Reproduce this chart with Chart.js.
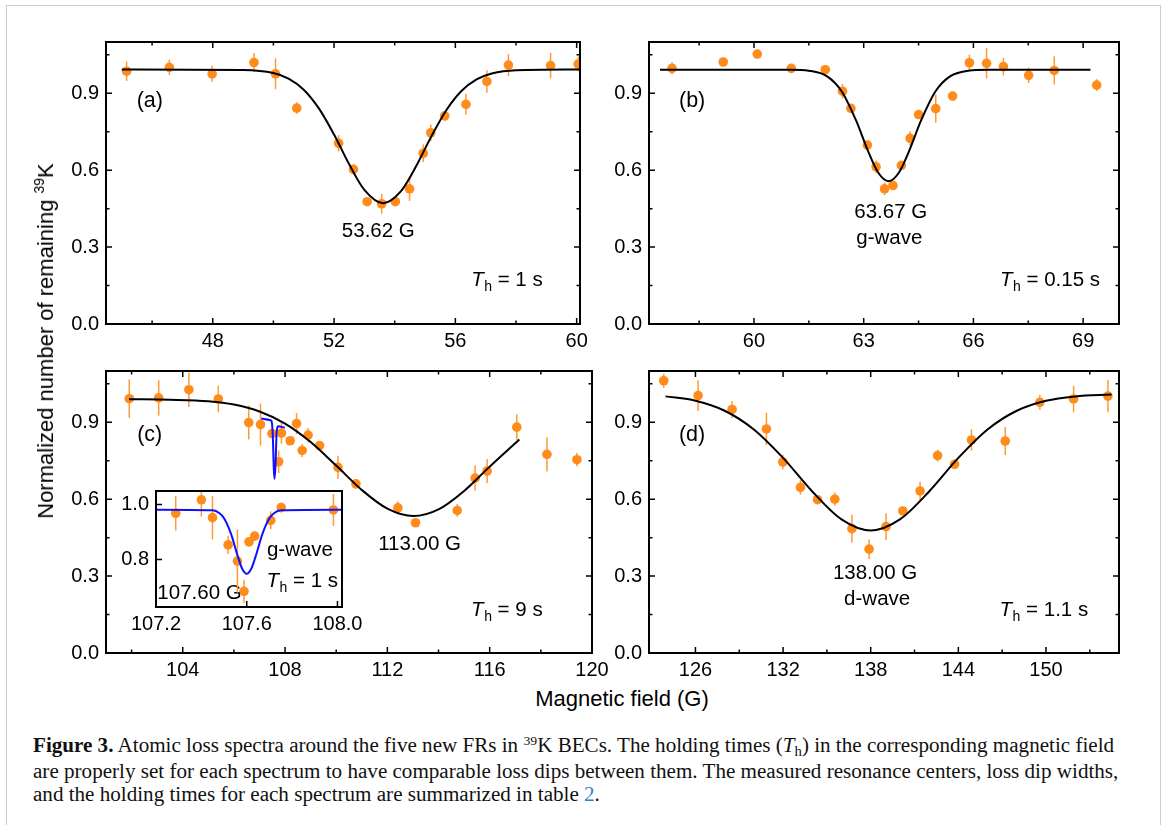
<!DOCTYPE html>
<html>
<head>
<meta charset="utf-8">
<title>Atomic loss spectra</title>
<script src="https://cdn.jsdelivr.net/npm/chart.js@4.4.1/dist/chart.umd.min.js"></script>
<style>
  body { margin: 0; background: #fff; }
  #fig { position: relative; width: 1165px; height: 825px; overflow: hidden; background: #fff; }
  #frame { position: absolute; left: 6px; top: 5px; width: 1155px; height: 900px; border: 1.5px solid #cccccc; box-sizing: border-box; }
  canvas { position: absolute; }
  .axt { position: absolute; font-family: "Liberation Sans", Arial, sans-serif; font-size: 22px; line-height: 22px; color: #000; white-space: nowrap; }
  #ytitle { left: 47px; top: 341px; transform: translate(-50%, -50%) rotate(-90deg); }
  #xtitle { left: 622px; top: 688px; transform: translateX(-50%); }
  #caption { position: absolute; left: 33px; top: 734px; font-family: "Liberation Serif", "DejaVu Serif", serif; font-size: 20px; line-height: 23.5px; color: #111; transform-origin: 0 0; white-space: nowrap; }
  #caption div { display: block; }
</style>
</head>
<body>
<div id="fig">
  <div id="frame"></div>
  <canvas id="chartA"></canvas>
  <canvas id="chartB"></canvas>
  <canvas id="chartC"></canvas>
  <canvas id="chartD"></canvas>
  <canvas id="chartInset" style="z-index:2"></canvas>
  <div class="axt" id="ytitle">Normalized number of remaining <span style="font-size:14px;position:relative;top:-9px">39</span>K</div>
  <div class="axt" id="xtitle">Magnetic field (G)</div>
  <div id="caption">
    <div id="cap1"><b>Figure 3.</b> Atomic loss spectra around the five new FRs in <span style="font-size:13px;position:relative;top:-7px">39</span>K BECs. The holding times (<i>T</i><span style="font-size:14px;position:relative;top:4px">h</span>) in the corresponding magnetic field</div>
    <div id="cap2">are properly set for each spectrum to have comparable loss dips between them. The measured resonance centers, loss dip widths,</div>
    <div id="cap3">and the holding times for each spectrum are summarized in table <span style="color:#2f82c4">2</span>.</div>
  </div>
</div>
<script>
// ---- values ----
var lossTicks = [0, 0.3, 0.6, 0.9];
var lossMinor = [0.15, 0.45, 0.75, 1.05];

// (a) 53.62 G, Th = 1 s
var aTicks = [48, 52, 56, 60];
var aMinor = [46, 50, 54, 58];
var aField = [45.16, 46.57, 47.98, 49.36, 50.07, 50.77, 52.15, 52.64, 53.09, 53.57, 54.02, 54.49, 54.94, 55.19, 55.65, 56.35, 57.04, 57.75, 59.14, 60.05];
var aLoss  = [0.986, 1.001, 0.976, 1.020, 0.976, 0.842, 0.705, 0.603, 0.477, 0.469, 0.477, 0.527, 0.666, 0.746, 0.812, 0.857, 0.946, 1.010, 1.008, 1.014];
var aErr   = [0.038, 0.030, 0.031, 0.037, 0.060, 0.022, 0.032, 0.020, 0.013, 0.039, 0.010, 0.047, 0.034, 0.032, 0.019, 0.041, 0.044, 0.043, 0.050, 0.028];
var aFitField = [45.0, 49.0, 50.0, 50.5, 51.0, 51.5, 52.0, 52.5, 53.0, 53.62, 54.2, 54.7, 55.2, 55.7, 56.2, 56.7, 57.2, 58.0, 60.1];
var aFitLoss  = [0.993, 0.991, 0.979, 0.957, 0.914, 0.841, 0.739, 0.623, 0.523, 0.471, 0.517, 0.614, 0.730, 0.834, 0.909, 0.954, 0.977, 0.990, 0.993];

// (b) 63.67 G g-wave, Th = 0.15 s
var bTicks = [60, 63, 66, 69];
var bMinor = [58.5, 61.5, 64.5, 67.5];
var bField = [57.76, 59.16, 60.09, 61.02, 61.95, 62.42, 62.65, 63.10, 63.34, 63.57, 63.80, 64.03, 64.27, 64.50, 64.97, 65.43, 65.89, 66.36, 66.82, 67.51, 68.21, 69.37];
var bLoss  = [0.997, 1.022, 1.053, 0.997, 0.992, 0.908, 0.841, 0.698, 0.613, 0.527, 0.540, 0.619, 0.724, 0.817, 0.840, 0.889, 1.019, 1.017, 1.004, 0.970, 0.989, 0.932];
var bErr   = [0.024, 0.008, 0.010, 0.012, 0.018, 0.028, 0.016, 0.018, 0.025, 0.025, 0.010, 0.012, 0.028, 0.012, 0.055, 0.010, 0.032, 0.059, 0.035, 0.030, 0.055, 0.023];
var bFitField = [57.43, 61.0, 61.5, 62.0, 62.4, 62.8, 63.1, 63.4, 63.68, 63.96, 64.26, 64.56, 64.96, 65.36, 65.86, 66.4, 69.2];
var bFitLoss  = [0.992, 0.992, 0.988, 0.966, 0.907, 0.791, 0.681, 0.590, 0.557, 0.590, 0.681, 0.791, 0.907, 0.966, 0.988, 0.992, 0.992];

// (c) 113.00 G, Th = 9 s (plus the narrow 107.60 G dip)
var cTicks = [104, 108, 112, 116, 120];
var cMinor = [102, 106, 110, 114, 118];
var cField = [101.91, 103.06, 104.24, 105.39, 106.58, 107.04, 107.49, 107.75, 107.86, 108.20, 108.45, 108.67, 108.90, 109.35, 110.07, 110.77, 112.41, 113.10, 114.73, 115.43, 115.90, 117.06, 118.24, 119.41];
var cLoss  = [0.992, 0.995, 1.027, 0.991, 0.899, 0.891, 0.856, 0.746, 0.858, 0.828, 0.895, 0.790, 0.850, 0.809, 0.724, 0.660, 0.566, 0.508, 0.556, 0.682, 0.710, 0.881, 0.775, 0.754];
var cErr   = [0.075, 0.069, 0.067, 0.052, 0.066, 0.082, 0.012, 0.044, 0.042, 0.012, 0.041, 0.025, 0.028, 0.012, 0.045, 0.019, 0.026, 0.012, 0.025, 0.049, 0.047, 0.050, 0.067, 0.026];
var cFitField = [101.9, 103.5, 105.0, 106.0, 107.0, 108.0, 109.0, 110.0, 111.0, 112.0, 113.02, 114.0, 115.0, 116.0, 117.16];
var cFitLoss  = [0.990, 0.988, 0.982, 0.969, 0.942, 0.895, 0.823, 0.731, 0.636, 0.563, 0.534, 0.560, 0.632, 0.727, 0.833];
var cNarrowField = [107.07, 107.40, 107.47, 107.52, 107.56, 107.59, 107.63, 107.67, 107.72, 107.99];
var cNarrowLoss  = [0.915, 0.909, 0.905, 0.850, 0.720, 0.679, 0.740, 0.860, 0.884, 0.879];

// inset: 107.60 G g-wave, Th = 1 s
var insetTicksX = [107.2, 107.6, 108.0];
var insetTicksY = [0.8, 1.0];
var insetField = [107.287, 107.40, 107.449, 107.518, 107.559, 107.588, 107.61, 107.635, 107.706, 107.752, 107.982];
var insetLoss  = [0.968, 1.017, 0.952, 0.853, 0.794, 0.684, 0.864, 0.885, 0.942, 0.989, 0.980];
var insetErr   = [0.063, 0.061, 0.079, 0.033, 0.115, 0.042, 0.010, 0.010, 0.032, 0.018, 0.058];
var insetFitField = [107.2, 107.45, 107.48, 107.5, 107.53, 107.56, 107.58, 107.6, 107.62, 107.64, 107.67, 107.7, 107.72, 107.75, 108.02];
var insetFitLoss  = [0.981, 0.979, 0.968, 0.950, 0.895, 0.813, 0.766, 0.748, 0.766, 0.813, 0.895, 0.950, 0.968, 0.979, 0.981];

// (d) 138.00 G d-wave, Th = 1.1 s
var dTicks = [126, 132, 138, 144, 150];
var dMinor = [129, 135, 141, 147, 153];
var dField = [123.83, 126.18, 128.51, 130.86, 131.98, 133.19, 134.36, 135.54, 136.71, 137.89, 139.05, 140.20, 141.38, 142.58, 143.74, 144.90, 147.21, 149.58, 151.89, 154.24];
var dLoss  = [1.062, 1.004, 0.950, 0.874, 0.745, 0.646, 0.598, 0.600, 0.485, 0.405, 0.493, 0.554, 0.632, 0.770, 0.736, 0.831, 0.827, 0.978, 0.991, 1.002];
var dErr   = [0.027, 0.060, 0.033, 0.063, 0.028, 0.028, 0.012, 0.026, 0.054, 0.038, 0.052, 0.012, 0.036, 0.023, 0.012, 0.042, 0.055, 0.029, 0.052, 0.063];
var dFitField = [123.95, 126, 128, 130, 132, 134, 136, 138, 140, 142, 144, 146, 148, 150, 152, 154.49];
var dFitLoss  = [1.001, 0.984, 0.945, 0.872, 0.761, 0.630, 0.521, 0.478, 0.521, 0.630, 0.761, 0.872, 0.945, 0.984, 1.001, 1.008];

// ---- drawing ----
var SANS = '"Liberation Sans", Arial, sans-serif';
Chart.defaults.font.family = SANS;
Chart.defaults.font.size = 20;
Chart.defaults.color = '#000';

var ORANGE = '#ff8c1a';
var BAR = '#ff9a33';

function pts(xs, ys) {
  return xs.map(function (x, i) { return { x: x, y: ys[i] }; });
}

function dots(xs, ys, errs) {
  return { data: pts(xs, ys), errors: errs, backgroundColor: ORANGE, borderWidth: 0,
           pointRadius: 4.8, pointHoverRadius: 4.8, showLine: false };
}

function curve(xs, ys, color) {
  return { data: pts(xs, ys), borderColor: color, borderWidth: 2, pointRadius: 0,
           showLine: true, fill: false, cubicInterpolationMode: 'monotone' };
}

function drawTh(ctx, x, y, rest, align) {
  ctx.font = 'italic 20.5px ' + SANS;
  var w1 = ctx.measureText('T').width + 0.5;
  ctx.font = '14px ' + SANS;
  var w2 = ctx.measureText('h').width;
  ctx.font = '20.5px ' + SANS;
  var w3 = ctx.measureText(rest).width;
  var x0 = align === 'right' ? x - (w1 + w2 + w3) : x;
  ctx.textAlign = 'left';
  ctx.font = 'italic 20.5px ' + SANS;
  ctx.fillText('T', x0, y);
  ctx.font = '14px ' + SANS;
  ctx.fillText('h', x0 + w1, y + 5);
  ctx.font = '20.5px ' + SANS;
  ctx.fillText(rest, x0 + w1 + w2, y);
}

var errorBars = {
  id: 'errorBars',
  beforeDatasetsDraw: function (chart) {
    var ctx = chart.ctx, a = chart.chartArea, xs = chart.scales.x, ys = chart.scales.y;
    ctx.save();
    ctx.beginPath();
    ctx.rect(a.left, a.top, a.right - a.left, a.bottom - a.top);
    ctx.clip();
    ctx.strokeStyle = BAR;
    ctx.lineWidth = 1.5;
    chart.data.datasets.forEach(function (ds) {
      if (!ds.errors) return;
      ds.data.forEach(function (p, i) {
        var px = xs.getPixelForValue(p.x);
        ctx.beginPath();
        ctx.moveTo(px, ys.getPixelForValue(p.y - ds.errors[i]));
        ctx.lineTo(px, ys.getPixelForValue(p.y + ds.errors[i]));
        ctx.stroke();
      });
    });
    ctx.restore();
  }
};

function frameTicks(xMinor, yMinor, sides) {
  return {
    id: 'frameTicks',
    afterDatasetsDraw: function (chart) {
      var ctx = chart.ctx, a = chart.chartArea, xs = chart.scales.x, ys = chart.scales.y;
      ctx.save();
      ctx.strokeStyle = '#000';
      ctx.lineWidth = 1.5;
      ctx.beginPath();
      function xm(vals, len) {
        vals.forEach(function (v) {
          var px = xs.getPixelForValue(v);
          if (sides.indexOf('b') >= 0) { ctx.moveTo(px, a.bottom); ctx.lineTo(px, a.bottom - len); }
          if (sides.indexOf('t') >= 0) { ctx.moveTo(px, a.top); ctx.lineTo(px, a.top + len); }
        });
      }
      function ym(vals, len) {
        vals.forEach(function (v) {
          var py = ys.getPixelForValue(v);
          if (sides.indexOf('l') >= 0) { ctx.moveTo(a.left, py); ctx.lineTo(a.left + len, py); }
          if (sides.indexOf('r') >= 0) { ctx.moveTo(a.right, py); ctx.lineTo(a.right - len, py); }
        });
      }
      xm(xs.ticks.map(function (t) { return t.value; }), 6);
      ym(ys.ticks.map(function (t) { return t.value; }), 6);
      xm(xMinor, 3.5);
      ym(yMinor, 3.5);
      ctx.stroke();
      ctx.lineWidth = 2;
      ctx.strokeRect(a.left, a.top, a.right - a.left, a.bottom - a.top);
      ctx.restore();
    }
  };
}

function notes(items, whiteBg) {
  return {
    id: 'notes',
    beforeDatasetsDraw: function (chart) {
      var ctx = chart.ctx, a = chart.chartArea, xs = chart.scales.x, ys = chart.scales.y;
      ctx.save();
      if (whiteBg) {
        ctx.fillStyle = '#fff';
        ctx.fillRect(a.left, a.top, a.right - a.left, a.bottom - a.top);
      }
      ctx.fillStyle = '#000';
      ctx.textBaseline = 'alphabetic';
      items.forEach(function (n) {
        var px = xs.getPixelForValue(n.x), py = ys.getPixelForValue(n.y);
        if (n.th) {
          drawTh(ctx, px, py, n.text, n.align);
        } else {
          ctx.font = (n.size || 20.5) + 'px ' + SANS;
          ctx.textAlign = n.align || 'left';
          ctx.fillText(n.text, px, py);
        }
      });
      ctx.restore();
    }
  };
}

function fixed(d) {
  return function (v) { return Number(v).toFixed(d); };
}

function makePanel(cfg) {
  var c = document.getElementById(cfg.id);
  var b = cfg.box, m = cfg.margin;
  c.width = b[2] - b[0] + m[0] + m[2];
  c.height = b[3] - b[1] + m[1] + m[3];
  c.style.left = (b[0] - m[0]) + 'px';
  c.style.top = (b[1] - m[1]) + 'px';
  return new Chart(c, {
    type: 'scatter',
    data: { datasets: cfg.datasets },
    options: {
      responsive: false,
      animation: false,
      events: [],
      layout: { padding: { left: 0, top: m[1], right: m[2], bottom: 0 } },
      plugins: { legend: { display: false }, tooltip: { enabled: false } },
      scales: {
        x: {
          type: 'linear', min: cfg.xRange[0], max: cfg.xRange[1], bounds: 'data',
          afterBuildTicks: function (s) { s.ticks = cfg.xTicks.map(function (v) { return { value: v }; }); },
          afterFit: function (s) { s.height = m[3]; },
          grid: { display: false, drawTicks: false }, border: { display: false },
          ticks: { padding: 5, autoSkip: false, maxRotation: 0, callback: cfg.fmtX }
        },
        y: {
          type: 'linear', min: cfg.yRange[0], max: cfg.yRange[1], bounds: 'data',
          afterBuildTicks: function (s) { s.ticks = cfg.yTicks.map(function (v) { return { value: v }; }); },
          afterFit: function (s) { s.width = m[0]; },
          grid: { display: false, drawTicks: false }, border: { display: false },
          ticks: { padding: 7, autoSkip: false, callback: fixed(1) }
        }
      }
    },
    plugins: [notes(cfg.notes, cfg.whiteBg), errorBars, frameTicks(cfg.xMinor, cfg.yMinor, cfg.sides)]
  });
}

var MAIN = [56, 10, 26, 32];

makePanel({
  id: 'chartA', box: [106, 33, 580, 324], margin: MAIN,
  xRange: [44.48, 60.11], yRange: [0, 1.1],
  xTicks: aTicks, xMinor: aMinor, yTicks: lossTicks, yMinor: lossMinor, sides: 'lrtb', fmtX: fixed(0),
  datasets: [curve(aFitField, aFitLoss, '#000'), dots(aField, aLoss, aErr)],
  notes: [
    { text: '(a)', x: 45.49, y: 0.847, size: 21.5 },
    { text: '53.62 G', x: 53.46, y: 0.340, align: 'center' },
    { text: ' = 1 s', x: 58.88, y: 0.147, align: 'right', th: true }
  ]
});

makePanel({
  id: 'chartB', box: [649, 33, 1119, 324], margin: MAIN,
  xRange: [57.13, 69.98], yRange: [0, 1.1],
  xTicks: bTicks, xMinor: bMinor, yTicks: lossTicks, yMinor: lossMinor, sides: 'lrtb', fmtX: fixed(0),
  datasets: [curve(bFitField, bFitLoss, '#000'), dots(bField, bLoss, bErr)],
  notes: [
    { text: '(b)', x: 57.95, y: 0.847, size: 21.5 },
    { text: '63.67 G', x: 63.74, y: 0.412, align: 'center' },
    { text: 'g-wave', x: 63.70, y: 0.314, align: 'center' },
    { text: ' = 0.15 s', x: 69.46, y: 0.147, align: 'right', th: true }
  ]
});

makePanel({
  id: 'chartC', box: [106, 362, 592, 653], margin: MAIN,
  xRange: [101, 120], yRange: [0, 1.1],
  xTicks: cTicks, xMinor: cMinor, yTicks: lossTicks, yMinor: lossMinor, sides: 'lrtb', fmtX: fixed(0),
  datasets: [curve(cNarrowField, cNarrowLoss, '#1010ff'), curve(cFitField, cFitLoss, '#000'), dots(cField, cLoss, cErr)],
  notes: [
    { text: '(c)', x: 102.22, y: 0.827, size: 21.5 },
    { text: '113.00 G', x: 113.26, y: 0.402, align: 'center' },
    { text: ' = 9 s', x: 118.07, y: 0.144, align: 'right', th: true }
  ]
});

makePanel({
  id: 'chartD', box: [649, 362, 1119, 653], margin: MAIN,
  xRange: [122.82, 155.0], yRange: [0, 1.1],
  xTicks: dTicks, xMinor: dMinor, yTicks: lossTicks, yMinor: lossMinor, sides: 'lrtb', fmtX: fixed(0),
  datasets: [curve(dFitField, dFitLoss, '#000'), dots(dField, dLoss, dErr)],
  notes: [
    { text: '(d)', x: 124.87, y: 0.827, size: 21.5 },
    { text: '138.00 G', x: 138.30, y: 0.288, align: 'center' },
    { text: 'd-wave', x: 138.44, y: 0.188, align: 'center' },
    { text: ' = 1.1 s', x: 152.89, y: 0.144, align: 'right', th: true }
  ]
});

makePanel({
  id: 'chartInset', box: [156, 480, 342, 607], margin: [46, 8, 30, 30],
  xRange: [107.2, 108.02], yRange: [0.627, 1.049],
  xTicks: insetTicksX, xMinor: [], yTicks: insetTicksY, yMinor: [], sides: 'lb', fmtX: fixed(1),
  whiteBg: true,
  datasets: [curve(insetFitField, insetFitLoss, '#1010ff'), dots(insetField, insetLoss, insetErr)],
  notes: [
    { text: 'g-wave', x: 107.689, y: 0.814 },
    { text: ' = 1 s', x: 107.687, y: 0.700, th: true },
    { text: '107.60 G', x: 107.206, y: 0.656 }
  ]
});

// stretch the caption lines to the printed measure
function fitCaption() {
  var cap = document.getElementById('caption');
  var w = document.getElementById('cap2').scrollWidth;
  cap.style.transform = 'scaleX(' + (1085 / w) + ')';
}
if (document.fonts && document.fonts.ready) { document.fonts.ready.then(fitCaption); } else { fitCaption(); }
</script>
</body>
</html>
